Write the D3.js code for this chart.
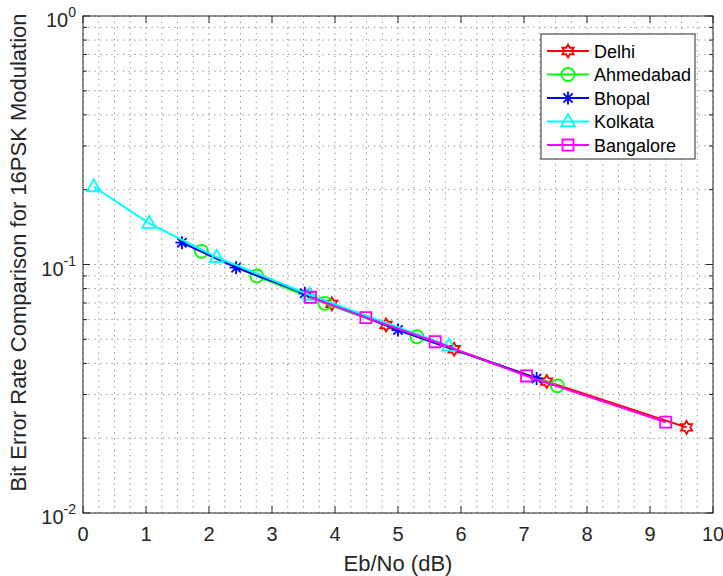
<!DOCTYPE html>
<html>
<head>
<meta charset="utf-8">
<script src="https://cdn.jsdelivr.net/npm/d3@7"></script>
<style>
  body { margin: 0; background: #fff; }
  text { font-family: "Liberation Sans", Arial, sans-serif; fill: #262626; }
</style>
</head>
<body>
<div id="chart"></div>
<script>
// data: Eb/No (dB) and BER for each city
var cities = ["Delhi", "Ahmedabad", "Bhopal", "Kolkata", "Bangalore"];
var delhiEbNo = [3.95, 4.81, 5.89, 7.36, 9.58];
var delhiBer = [0.0694, 0.0571, 0.0456, 0.0338, 0.0221];
var ahmedabadEbNo = [1.88, 2.76, 3.84, 5.30, 7.53];
var ahmedabadBer = [0.113, 0.0899, 0.0698, 0.0512, 0.0325];
var bhopalEbNo = [1.57, 2.43, 3.52, 5.00, 7.20];
var bhopalBer = [0.1224, 0.0971, 0.0766, 0.0545, 0.0348];
var kolkataEbNo = [0.17, 1.05, 2.12, 3.60, 5.81];
var kolkataBer = [0.2056, 0.1465, 0.107, 0.0754, 0.047];
var bangaloreEbNo = [3.61, 4.49, 5.59, 7.04, 9.25];
var bangaloreBer = [0.0738, 0.0611, 0.0489, 0.0356, 0.0232];
var xTicks = [0, 1, 2, 3, 4, 5, 6, 7, 8, 9, 10];
var yDecades = [-2, -1, 0];

var colors = ["#ff0000", "#00ff00", "#0000ff", "#00ffff", "#ff00ff"];
var markers = ["hexagram", "circle", "asterisk", "triangle", "square"];

var series = [
  { name: cities[0], x: delhiEbNo, y: delhiBer },
  { name: cities[1], x: ahmedabadEbNo, y: ahmedabadBer },
  { name: cities[2], x: bhopalEbNo, y: bhopalBer },
  { name: cities[3], x: kolkataEbNo, y: kolkataBer },
  { name: cities[4], x: bangaloreEbNo, y: bangaloreBer }
];

var margin = {top: 16, right: 10, bottom: 63, left: 83},
    width = 723 - margin.left - margin.right,
    height = 576 - margin.top - margin.bottom;

var svg = d3.select("#chart")
  .append("svg")
  .attr("width", 723)
  .attr("height", 576)
  .append("g")
  .attr("transform", "translate(" + margin.left + "," + margin.top + ")");

var x = d3.scaleLinear().domain([0, 10]).range([0, width]);
var y = d3.scaleLog().domain([0.01, 1]).range([height, 0]);

// minor values on the log axis
var yMinor = [];
[0.01, 0.1].forEach(function(d) {
  for (var k = 2; k <= 9; k++) yMinor.push(d * k);
});
var xMinor = d3.range(0, 40).map(function(i) { return i / 4; }).filter(function(v) { return v % 1 !== 0; });

// grid (dotted, like matlab's grid on / grid minor)
var grid = svg.append("g").attr("stroke", "#8a8a8a").attr("stroke-dasharray", "1.3,4.4").attr("stroke-width", 1);
xTicks.concat(xMinor).forEach(function(v) {
  grid.append("line").attr("x1", x(v)).attr("x2", x(v)).attr("y1", 0).attr("y2", height);
});
yDecades.map(function(e) { return Math.pow(10, e); }).concat(yMinor).forEach(function(v) {
  grid.append("line").attr("y1", y(v)).attr("y2", y(v)).attr("x1", 0).attr("x2", width);
});

// marker shapes
function markerPath(type, r) {
  var p = d3.path();
  if (type === "circle") {
    p.moveTo(r, 0); p.arc(0, 0, r, 0, 2 * Math.PI);
  } else if (type === "square") {
    p.rect(-r * 0.85, -r * 0.85, r * 1.7, r * 1.7);
  } else if (type === "triangle") {
    p.moveTo(0, -r * 1.15); p.lineTo(r * 1.05, r * 0.7); p.lineTo(-r * 1.05, r * 0.7); p.closePath();
  } else if (type === "asterisk") {
    for (var i = 0; i < 4; i++) {
      var a = i * Math.PI / 4;
      p.moveTo(-r * Math.cos(a), -r * Math.sin(a));
      p.lineTo(r * Math.cos(a), r * Math.sin(a));
    }
  } else if (type === "hexagram") {
    for (var j = 0; j < 12; j++) {
      var ang = -Math.PI / 2 + j * Math.PI / 6;
      var rr = j % 2 === 0 ? r : r / Math.sqrt(3);
      if (j === 0) p.moveTo(rr * Math.cos(ang), rr * Math.sin(ang));
      else p.lineTo(rr * Math.cos(ang), rr * Math.sin(ang));
    }
    p.closePath();
  }
  return p.toString();
}

var line = d3.line()
  .x(function(d) { return x(d[0]); })
  .y(function(d) { return y(d[1]); });

series.forEach(function(s, i) {
  var pts = s.x.map(function(v, k) { return [v, s.y[k]]; });
  var g = svg.append("g");
  g.append("path")
    .datum(pts)
    .attr("d", line)
    .attr("fill", "none")
    .attr("stroke", colors[i])
    .attr("stroke-width", 2);
  g.selectAll("path.mk")
    .data(pts)
    .enter()
    .append("path")
    .attr("class", "mk")
    .attr("transform", function(d) { return "translate(" + x(d[0]) + "," + y(d[1]) + ")"; })
    .attr("d", markerPath(markers[i], 6.5))
    .attr("fill", "none")
    .attr("stroke", colors[i])
    .attr("stroke-width", 1.8);
});

// axes box and ticks
var axisG = svg.append("g").attr("stroke", "#262626").attr("stroke-width", 1);
axisG.append("rect").attr("x", 0).attr("y", 0).attr("width", width).attr("height", height).attr("fill", "none");
xTicks.forEach(function(v) {
  axisG.append("line").attr("x1", x(v)).attr("x2", x(v)).attr("y1", height).attr("y2", height - 7);
  axisG.append("line").attr("x1", x(v)).attr("x2", x(v)).attr("y1", 0).attr("y2", 7);
});
yDecades.forEach(function(e) {
  var v = Math.pow(10, e);
  axisG.append("line").attr("y1", y(v)).attr("y2", y(v)).attr("x1", 0).attr("x2", 7);
  axisG.append("line").attr("y1", y(v)).attr("y2", y(v)).attr("x1", width).attr("x2", width - 7);
});
yMinor.forEach(function(v) {
  axisG.append("line").attr("y1", y(v)).attr("y2", y(v)).attr("x1", 0).attr("x2", 4);
  axisG.append("line").attr("y1", y(v)).attr("y2", y(v)).attr("x1", width).attr("x2", width - 4);
});

// tick labels
svg.selectAll("text.xt")
  .data(xTicks)
  .enter()
  .append("text")
  .attr("x", function(d) { return x(d); })
  .attr("y", height + 28)
  .attr("text-anchor", "middle")
  .style("font-size", "20px")
  .text(function(d) { return d; });

var yt = svg.selectAll("text.yt")
  .data(yDecades)
  .enter()
  .append("text")
  .attr("x", -7)
  .attr("y", function(d) { return y(Math.pow(10, d)) + 11; })
  .attr("text-anchor", "end")
  .style("font-size", "20px");
yt.append("tspan").text("10");
yt.append("tspan")
  .attr("dy", -10)
  .style("font-size", "14px")
  .text(function(d) { return d; });

// axis labels
svg.append("text")
  .attr("x", width / 2)
  .attr("y", height + 58)
  .attr("text-anchor", "middle")
  .style("font-size", "22px")
  .text("Eb/No (dB)");

svg.append("text")
  .attr("transform", "rotate(-90)")
  .attr("x", -(height / 2) + 12)
  .attr("y", -57)
  .attr("text-anchor", "middle")
  .style("font-size", "22px")
  .text("Bit Error Rate Comparison for 16PSK Modulation");

// legend
var legend = svg.append("g").attr("transform", "translate(" + (width - 172) + ",18)");
legend.append("rect")
  .attr("width", 154)
  .attr("height", 125)
  .attr("fill", "#fff")
  .attr("stroke", "#262626")
  .attr("stroke-width", 1);
series.forEach(function(s, i) {
  var row = legend.append("g").attr("transform", "translate(0," + (17 + i * 23.5) + ")");
  row.append("line")
    .attr("x1", 6).attr("x2", 48)
    .attr("stroke", colors[i]).attr("stroke-width", 2);
  row.append("path")
    .attr("transform", "translate(27,0)")
    .attr("d", markerPath(markers[i], 6.5))
    .attr("fill", "none")
    .attr("stroke", colors[i])
    .attr("stroke-width", 1.8);
  row.append("text")
    .attr("x", 53)
    .attr("y", 6.5)
    .style("font-size", "18px")
    .style("fill", "#000")
    .text(s.name);
});
</script>
</body>
</html>
